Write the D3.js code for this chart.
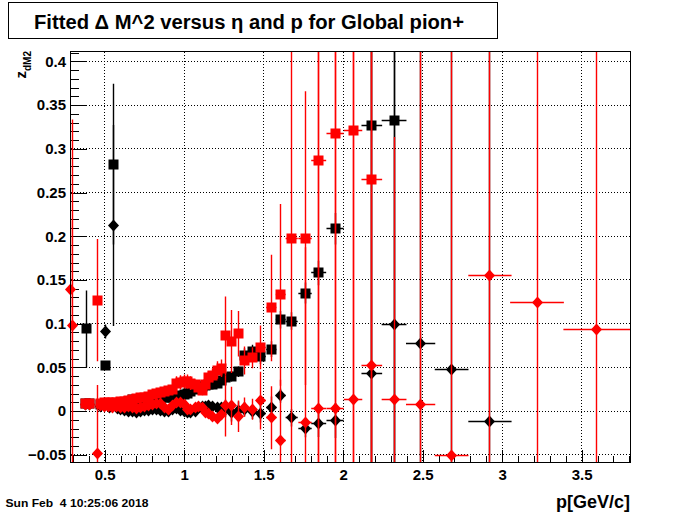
<!DOCTYPE html>
<html><head><meta charset="utf-8">
<script src="https://cdn.jsdelivr.net/npm/d3@7"></script>
<style>
body{margin:0;background:#fff}
svg{display:block}
text{font-family:"Liberation Sans",Arial,Helvetica,sans-serif;font-weight:bold}
</style>
</head><body>
<svg id="c" width="700" height="514"></svg>
<script>
// ---------------- data ----------------
const titleText = "Fitted \u0394 M^2 versus \u03b7 and p for Global pion+";
const xTitle = "p[GeV/c]";
const dateText = "Sun Feb  4 10:25:06 2018";
const xDomain = [0.285, 3.807];
const yDomain = [-0.0588, 0.4114];
const xMajor = [0.5, 1, 1.5, 2, 2.5, 3, 3.5];
const xLabels = ["0.5", "1", "1.5", "2", "2.5", "3", "3.5"];
const yMajor = [-0.05, 0, 0.05, 0.1, 0.15, 0.2, 0.25, 0.3, 0.35, 0.4];
const yLabels = ["\u22120.05", "0", "0.05", "0.1", "0.15", "0.2", "0.25", "0.3", "0.35", "0.4"];

// black squares
const bsqX = [0.38,0.387,0.405,0.475,0.508,0.53,0.555,0.58,0.6,0.625,0.65,0.675,0.7,0.725,0.75,0.775,0.8,0.825,0.85,0.875,0.9,0.925,0.95,0.975,1.0,1.02,1.04,1.072,1.093,1.114,1.135,1.156,1.18,1.209,1.235,1.261,1.297,1.339,1.382,1.429,1.483,1.548,1.607,1.676,1.76,1.846,1.949,2.18,2.32];
const bsqY = [0.009,0.094,0.009,0.008,0.052,0.008,0.2826,0.008,0.008,0.009,0.011,0.013,0.013,0.011,0.010,0.011,0.012,0.013,0.014,0.015,0.016,0.016,0.017,0.018,0.019,0.020,0.022,0.025,0.027,0.028,0.029,0.030,0.031,0.032,0.035,0.038,0.040,0.045,0.064,0.068,0.062,0.071,0.1045,0.103,0.135,0.158,0.2086,0.327,0.332];
const bsqEY = [0.003,0.044,0.003,0.003,0.004,0.003,0.092,0.003,0.003,0.003,0.003,0.003,0.003,0.003,0.003,0.003,0.003,0.003,0.003,0.003,0.003,0.003,0.003,0.003,0.003,0.003,0.003,0.004,0.004,0.004,0.004,0.004,0.004,0.005,0.005,0.006,0.006,0.006,0.008,0.008,0.008,0.009,0.010,0.010,0.012,0.014,0.018,0.5,0.5];
const bsqEX = [0.0125,0.0125,0.0125,0.0125,0.0125,0.0125,0.0125,0.0125,0.0125,0.0125,0.0125,0.0125,0.0125,0.0125,0.0125,0.0125,0.0125,0.0125,0.0125,0.0125,0.0125,0.0125,0.0125,0.0125,0.0125,0.011,0.011,0.011,0.011,0.011,0.011,0.011,0.011,0.011,0.011,0.018,0.02,0.022,0.022,0.025,0.03,0.032,0.031,0.038,0.042,0.047,0.054,0.065,0.078];

// red squares
const rsqX = [0.38,0.405,0.456,0.475,0.5,0.525,0.55,0.575,0.6,0.625,0.65,0.675,0.7,0.725,0.75,0.775,0.8,0.825,0.85,0.875,0.9,0.925,0.95,0.975,1.0,1.02,1.04,1.072,1.093,1.114,1.135,1.156,1.18,1.209,1.235,1.261,1.297,1.339,1.382,1.429,1.483,1.548,1.607,1.676,1.76,1.846,1.949,2.062,2.18];
const rsqY = [0.009,0.009,0.127,0.009,0.010,0.010,0.010,0.010,0.011,0.011,0.012,0.013,0.014,0.015,0.015,0.017,0.019,0.020,0.021,0.022,0.024,0.025,0.032,0.033,0.034,0.034,0.032,0.030,0.027,0.024,0.031,0.038,0.041,0.047,0.049,0.086,0.0797,0.0884,0.058,0.061,0.073,0.118,0.133,0.198,0.198,0.287,0.318,0.3215,0.265];
const rsqEY = [0.003,0.003,0.070,0.003,0.003,0.003,0.003,0.003,0.003,0.003,0.003,0.003,0.003,0.003,0.003,0.003,0.003,0.003,0.003,0.003,0.003,0.003,0.008,0.008,0.008,0.008,0.008,0.006,0.006,0.006,0.006,0.008,0.008,0.010,0.010,0.045,0.036,0.026,0.016,0.012,0.025,0.061,0.104,0.5,0.168,0.5,0.5,0.5,0.5];
const rsqEX = [0.0125,0.0125,0.0125,0.0125,0.0125,0.0125,0.0125,0.0125,0.0125,0.0125,0.0125,0.0125,0.0125,0.0125,0.0125,0.0125,0.0125,0.0125,0.0125,0.0125,0.0125,0.0125,0.0125,0.0125,0.0125,0.011,0.011,0.011,0.011,0.011,0.011,0.011,0.011,0.011,0.011,0.018,0.02,0.022,0.022,0.025,0.03,0.032,0.031,0.038,0.042,0.047,0.054,0.058,0.065];

// black diamonds
const bdiX = [0.38,0.405,0.475,0.508,0.53,0.555,0.58,0.6,0.625,0.65,0.675,0.7,0.725,0.75,0.775,0.8,0.825,0.85,0.875,0.9,0.925,0.95,0.975,1.0,1.02,1.04,1.072,1.093,1.114,1.135,1.156,1.18,1.209,1.235,1.261,1.297,1.339,1.382,1.429,1.483,1.548,1.607,1.676,1.76,1.846,1.949,2.18,2.32,2.487,2.682,2.923];
const bdiY = [0.007,0.007,0.005,0.091,0.004,0.2124,0.003,0.002,0.001,0.000,-0.001,-0.002,0.000,0.001,0.001,0.002,0.002,0.001,-0.001,0.000,0.002,0.003,0.001,-0.001,-0.002,-0.002,0.000,0.004,0.005,0.005,0.006,0.005,0.0046,0.004,0.003,-0.002,0.001,0.002,-0.001,-0.003,0.0046,0.0175,-0.0077,-0.020,-0.0145,-0.0107,0.0435,0.0995,0.0778,0.0473,-0.0114];
const bdiEY = [0.003,0.003,0.003,0.008,0.003,0.115,0.003,0.003,0.003,0.003,0.003,0.003,0.003,0.003,0.003,0.003,0.003,0.003,0.003,0.003,0.003,0.003,0.003,0.003,0.003,0.003,0.003,0.003,0.003,0.003,0.003,0.003,0.003,0.003,0.010,0.010,0.010,0.008,0.008,0.010,0.012,0.008,0.010,0.010,0.015,0.020,0.5,0.5,0.5,0.5,0.5];
const bdiEX = [0.0125,0.0125,0.0125,0.0125,0.0125,0.0125,0.0125,0.0125,0.0125,0.0125,0.0125,0.0125,0.0125,0.0125,0.0125,0.0125,0.0125,0.0125,0.0125,0.0125,0.0125,0.0125,0.0125,0.0125,0.011,0.011,0.011,0.011,0.011,0.011,0.011,0.011,0.011,0.011,0.018,0.02,0.022,0.022,0.025,0.03,0.032,0.031,0.038,0.042,0.047,0.054,0.065,0.078,0.092,0.106,0.136];

// red diamonds
const rdiX = [0.288,0.299,0.38,0.405,0.456,0.475,0.5,0.525,0.55,0.575,0.6,0.625,0.65,0.675,0.7,0.725,0.75,0.775,0.8,0.825,0.85,0.875,0.9,0.925,0.95,0.975,1.0,1.02,1.04,1.072,1.093,1.114,1.135,1.156,1.18,1.209,1.235,1.261,1.297,1.339,1.382,1.429,1.483,1.548,1.607,1.76,1.846,1.949,2.062,2.18,2.32,2.487,2.682,2.923,3.219,3.596];
const rdiY = [0.139,0.0985,0.007,0.007,-0.048,0.006,0.005,0.005,0.004,0.005,0.004,0.004,0.005,0.004,0.003,0.004,0.005,0.006,0.008,0.009,0.009,0.004,0.002,0.006,0.010,0.010,0.007,0.002,0.002,0.004,0.005,0.0046,-0.002,-0.003,-0.006,-0.009,-0.004,0.006,0.006,-0.006,0.0046,0.002,0.012,-0.0077,-0.034,-0.0126,0.0026,0.0026,0.0137,0.052,0.0137,0.008,-0.051,0.1548,0.1247,0.0938];
const rdiEY = [0.079,0.235,0.003,0.003,0.078,0.003,0.003,0.003,0.003,0.003,0.003,0.003,0.003,0.003,0.003,0.003,0.003,0.003,0.003,0.003,0.003,0.003,0.003,0.003,0.003,0.003,0.003,0.003,0.003,0.003,0.003,0.003,0.003,0.003,0.003,0.003,0.003,0.035,0.022,0.018,0.011,0.012,0.033,0.036,0.070,0.2,0.5,0.5,0.5,0.5,0.3,0.5,0.5,0.5,0.5,0.5];
const rdiEX = [0.0125,0.0125,0.0125,0.0125,0.0125,0.0125,0.0125,0.0125,0.0125,0.0125,0.0125,0.0125,0.0125,0.0125,0.0125,0.0125,0.0125,0.0125,0.0125,0.0125,0.0125,0.0125,0.0125,0.0125,0.0125,0.0125,0.0125,0.011,0.011,0.011,0.011,0.011,0.011,0.011,0.011,0.011,0.011,0.018,0.02,0.022,0.022,0.025,0.03,0.032,0.031,0.042,0.047,0.054,0.058,0.065,0.078,0.092,0.106,0.136,0.169,0.211];

// ---------------- drawing ----------------
const svg = d3.select("#c");
const F = {l:70.5, r:630.5, t:51.5, b:462.5};
const x = d3.scaleLinear().domain(xDomain).range([F.l, F.r]);
const y = d3.scaleLinear().domain(yDomain).range([F.b, F.t]);
const px = v => Math.round(x(v) - 0.5) + 0.5;
const py = v => Math.round(y(v) - 0.5) + 0.5;

svg.append("rect").attr("width",700).attr("height",514).attr("fill","#fff");

svg.append("defs").append("clipPath").attr("id","fr")
  .append("rect").attr("x",F.l).attr("y",F.t).attr("width",F.r-F.l).attr("height",F.b-F.t);

// grid
const grid = svg.append("g").attr("stroke","#000").attr("stroke-width",1).attr("stroke-dasharray","1,2").attr("shape-rendering","crispEdges");
grid.selectAll(".gx").data(xMajor).join("line")
  .attr("x1",d=>px(d)).attr("x2",d=>px(d)).attr("y1",F.t).attr("y2",F.b);
grid.selectAll(".gy").data(yMajor).join("line")
  .attr("y1",d=>py(d)).attr("y2",d=>py(d)).attr("x1",F.l).attr("x2",F.r);

// axes
function styleAxis(g){
  g.select(".domain").remove();
  g.selectAll("line").attr("stroke","#000").attr("shape-rendering","crispEdges");
  g.selectAll("text").attr("font-family",'"Liberation Sans",Arial,sans-serif').attr("font-weight","bold").attr("font-size",15).attr("fill","#000");
}
const yMinor = d3.range(-0.05, 0.4115, 0.01).map(v=>+v.toFixed(3));
const xMinor = d3.range(0.3, 3.801, 0.1).map(v=>+v.toFixed(2));

svg.append("g").attr("transform",`translate(${F.l},0)`)
  .call(d3.axisLeft(y).tickValues(yMinor).tickSizeInner(-8.4).tickSizeOuter(0).tickFormat(""))
  .call(styleAxis);
svg.append("g").attr("transform",`translate(${F.l},0)`)
  .call(d3.axisLeft(y).tickValues(yMajor).tickSizeInner(-16.8).tickSizeOuter(0).tickPadding(4.5).tickFormat((d,i)=>yLabels[i]))
  .call(styleAxis);
svg.append("g").attr("transform",`translate(0,${F.b})`)
  .call(d3.axisBottom(x).tickValues(xMinor).tickSizeInner(-6.2).tickSizeOuter(0).tickFormat(""))
  .call(styleAxis);
svg.append("g").attr("transform",`translate(0,${F.b})`)
  .call(d3.axisBottom(x).tickValues(xMajor).tickSizeInner(-12.4).tickSizeOuter(0).tickPadding(7).tickFormat((d,i)=>xLabels[i]))
  .call(styleAxis);

// series
function drawSeries(xs, ys, exs, eys, color, shape){
  const pts = xs.map((v,i)=>({x:v, y:ys[i], ex:exs[i], ey:eys[i]}));
  const g = svg.append("g");
  const eg = g.append("g").attr("clip-path","url(#fr)").attr("stroke",color).attr("stroke-width",1.4);
  eg.selectAll(".v").data(pts).join("line")
    .attr("x1",d=>px(d.x)).attr("x2",d=>px(d.x)).attr("y1",d=>y(d.y-d.ey)).attr("y2",d=>y(d.y+d.ey));
  eg.selectAll(".h").data(pts).join("line")
    .attr("y1",d=>py(d.y)).attr("y2",d=>py(d.y)).attr("x1",d=>x(d.x-d.ex)).attr("x2",d=>x(d.x+d.ex));
  const mg = g.append("g").attr("fill",color);
  if (shape==="square"){
    mg.selectAll("rect").data(pts).join("rect")
      .attr("x",d=>px(d.x)-5).attr("y",d=>py(d.y)-5).attr("width",10).attr("height",10);
  } else {
    mg.selectAll("path").data(pts).join("path")
      .attr("d",d=>{const cx=px(d.x), cy=py(d.y); return `M${cx},${cy-6}L${cx+5.5},${cy}L${cx},${cy+6}L${cx-5.5},${cy}Z`;});
  }
}
drawSeries(bsqX, bsqY, bsqEX, bsqEY, "#000", "square");
drawSeries(bdiX, bdiY, bdiEX, bdiEY, "#000", "diamond");
drawSeries(rsqX, rsqY, rsqEX, rsqEY, "#ff0000", "square");
drawSeries(rdiX, rdiY, rdiEX, rdiEY, "#ff0000", "diamond");

// frame
svg.append("rect").attr("x",F.l).attr("y",F.t).attr("width",F.r-F.l).attr("height",F.b-F.t)
  .attr("fill","none").attr("stroke","#000").attr("stroke-width",1).attr("shape-rendering","crispEdges");

// title box
svg.append("rect").attr("x",8.5).attr("y",2.5).attr("width",489).attr("height",36)
  .attr("fill","#fff").attr("stroke","#000").attr("stroke-width",1).attr("shape-rendering","crispEdges");
svg.append("text").attr("x",249).attr("y",29).attr("text-anchor","middle").attr("font-size",20)
  .attr("textLength",430).attr("lengthAdjust","spacingAndGlyphs").text(titleText);

// y title z_dM2
const yt = svg.append("text").attr("transform","translate(26,51) rotate(-90)").attr("text-anchor","end");
yt.append("tspan").attr("font-size",15).text("z");
yt.append("tspan").attr("font-size",10).attr("dy",5).text("dM2");

// x title
svg.append("text").attr("x",630).attr("y",508).attr("text-anchor","end").attr("font-size",18).text(xTitle);

// date
svg.append("text").attr("x",5.5).attr("y",507).attr("font-size",10.5)
  .attr("textLength",143).attr("lengthAdjust","spacingAndGlyphs").style("white-space","pre").text(dateText);
</script>
</body></html>
